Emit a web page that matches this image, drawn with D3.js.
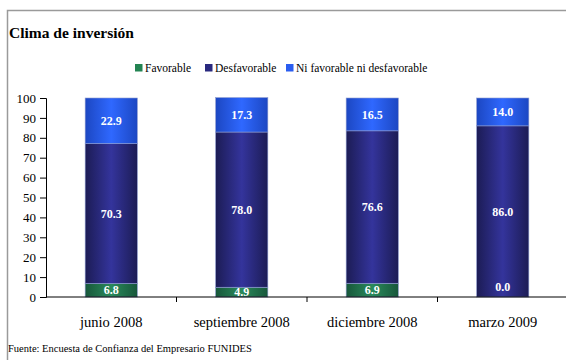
<!DOCTYPE html>
<html>
<head>
<meta charset="utf-8">
<script src="https://cdn.jsdelivr.net/npm/d3@7/dist/d3.min.js"></script>
<style>
  html, body { margin: 0; padding: 0; background: #fff; }
  svg { display: block; }
  svg text { font-family: "Liberation Serif", "Times New Roman", serif; }
</style>
</head>
<body>
<svg id="chart" width="566" height="360"></svg>
<script>
// Survey periods and the share of answers per category (percent)
const periods = ["junio 2008", "septiembre 2008", "diciembre 2008", "marzo 2009"];
const favorable = [6.8, 4.9, 6.9, 0.0];
const desfavorable = [70.3, 78.0, 76.6, 86.0];
const niFavorable = [22.9, 17.3, 16.5, 14.0];
const seriesNames = ["Favorable", "Desfavorable", "Ni favorable ni desfavorable"];
const yTicks = [0, 10, 20, 30, 40, 50, 60, 70, 80, 90, 100];

const FONT = "Liberation Serif, Times New Roman, serif";
const svg = d3.select("#chart");

// Outer frame
svg.append("rect")
  .attr("x", 7.5).attr("y", 10.5)
  .attr("width", 620).attr("height", 420)
  .attr("fill", "none").attr("stroke", "#9a9a9a").attr("stroke-width", 1.5);

svg.append("text")
  .attr("x", 9).attr("y", 38)
  .attr("font-family", FONT)
  .attr("font-size", 15.5).attr("font-weight", "bold").attr("fill", "#000")
  .text("Clima de inversión");

const plotLeft = 46, plotRight = 568, plotTop = 98, plotBottom = 297;

const x = d3.scaleBand().domain(periods).range([plotLeft, plotRight])
  .paddingInner(0.6).paddingOuter(0.3);
const y = d3.scaleLinear().domain([0, 100]).range([plotBottom, plotTop]);

// Horizontal gradients give the bars their cylindrical shading
const defs = svg.append("defs");
const shades = [
  { id: "gFav", edge: "#17573a", mid: "#2a8a5c" },
  { id: "gDes", edge: "#1c1c55", mid: "#34349c" },
  { id: "gNi", edge: "#1c47c2", mid: "#2f68ff" }
];
shades.forEach(s => {
  const g = defs.append("linearGradient").attr("id", s.id)
    .attr("x1", "0%").attr("x2", "100%").attr("y1", "0%").attr("y2", "0%");
  g.append("stop").attr("offset", "0%").attr("stop-color", s.edge);
  g.append("stop").attr("offset", "50%").attr("stop-color", s.mid);
  g.append("stop").attr("offset", "100%").attr("stop-color", s.edge);
});
const legendColors = ["#238452", "#29297f", "#2a5df0"];

// Stack the three series
const rows = periods.map((p, i) => ({
  period: p, Favorable: favorable[i], Desfavorable: desfavorable[i],
  "Ni favorable ni desfavorable": niFavorable[i]
}));
const stacked = d3.stack().keys(seriesNames)(rows);

const barLayer = svg.append("g");
const labelLayer = svg.append("g");
stacked.forEach((layer, k) => {
  barLayer.append("g").selectAll("rect").data(layer).join("rect")
    .attr("x", d => x(d.data.period))
    .attr("width", x.bandwidth())
    .attr("y", d => y(d[1]))
    .attr("height", d => y(d[0]) - y(d[1]))
    .attr("fill", `url(#${shades[k].id})`)
    .attr("stroke", "#8d9bd0").attr("stroke-width", 0.6);
  labelLayer.append("g").selectAll("text").data(layer).join("text")
    .attr("x", d => x(d.data.period) + x.bandwidth() / 2)
    .attr("y", d => {
      const h = y(d[0]) - y(d[1]);
      return h < 1 ? y(d[0]) - 10 : (y(d[0]) + y(d[1])) / 2;
    })
    .attr("dy", "0.35em")
    .attr("text-anchor", "middle")
    .attr("font-family", FONT)
    .attr("font-size", 12).attr("font-weight", "bold").attr("fill", "#fff")
    .text(d => (d[1] - d[0]).toFixed(1));
});

// Y axis
const yAxis = svg.append("g").attr("transform", `translate(${plotLeft},0)`)
  .call(d3.axisLeft(y).tickValues(yTicks).tickSize(6).tickPadding(4));
yAxis.attr("font-family", FONT);
yAxis.select(".domain").attr("stroke", "#000");
yAxis.selectAll(".tick line").attr("stroke", "#000");
yAxis.selectAll("text").attr("font-size", 13).attr("fill", "#000")
  .attr("font-family", FONT);

// X axis: baseline with ticks between the categories
svg.append("line").attr("x1", plotLeft).attr("x2", 566)
  .attr("y1", plotBottom).attr("y2", plotBottom).attr("stroke", "#000");
const bounds = periods.slice(1).map(p => x(p) - x.step() * x.paddingInner() / 2);
svg.selectAll(".xtick").data(bounds).join("line")
  .attr("x1", d => d).attr("x2", d => d)
  .attr("y1", plotBottom).attr("y2", plotBottom + 5).attr("stroke", "#000");
svg.selectAll(".xlab").data(periods).join("text")
  .attr("x", d => x(d) + x.bandwidth() / 2)
  .attr("y", 327)
  .attr("text-anchor", "middle")
  .attr("font-family", FONT)
  .attr("font-size", 14.5).attr("fill", "#000")
  .text(d => d);

// Legend
const legend = svg.append("g");
const legX = [135, 205, 286];
seriesNames.forEach((n, i) => {
  legend.append("rect").attr("x", legX[i]).attr("y", 64)
    .attr("width", 7.5).attr("height", 7.5).attr("fill", legendColors[i]);
  legend.append("text").attr("x", legX[i] + 10).attr("y", 72)
    .attr("font-family", FONT)
    .attr("font-size", 11.5).attr("fill", "#000").text(n);
});

svg.append("text")
  .attr("x", 8).attr("y", 352)
  .attr("font-family", FONT)
  .attr("font-size", 10.5).attr("fill", "#000")
  .text("Fuente: Encuesta de Confianza del Empresario FUNIDES");
</script>
</body>
</html>
